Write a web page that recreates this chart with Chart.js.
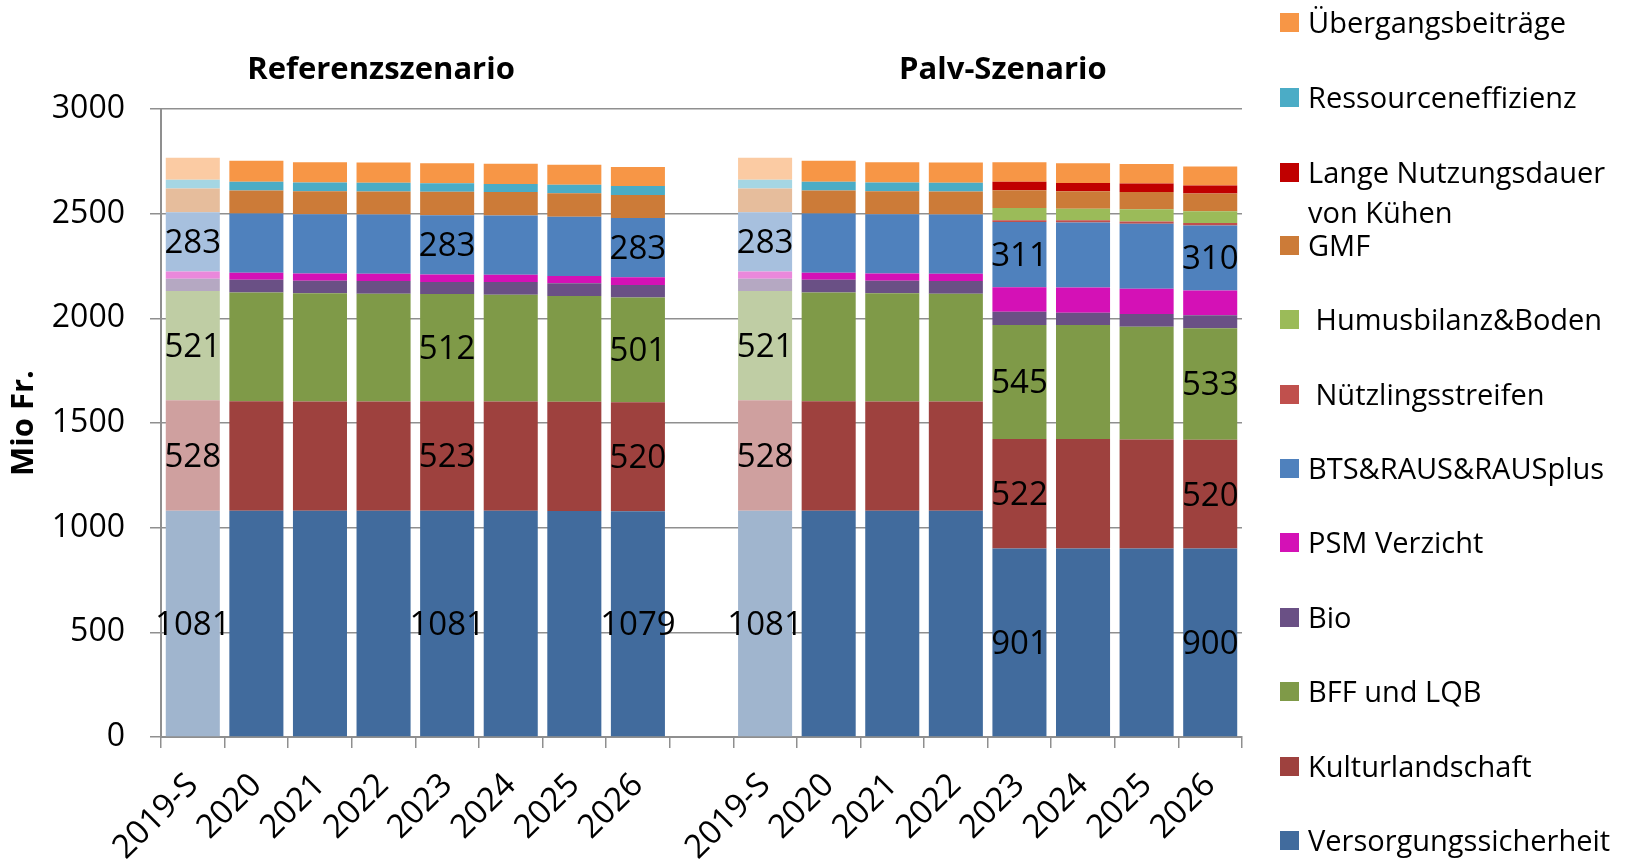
<!DOCTYPE html>
<html>
<head>
<meta charset="utf-8">
<script src="https://cdn.jsdelivr.net/npm/chart.js@4/dist/chart.umd.min.js"></script>
<style>
  body { margin: 0; background: #fff; }
  #wrap { position: relative; width: 1627px; height: 859px; }
  #legend { position: absolute; left: 0; top: 0; font-family: "Open Sans", sans-serif; font-size: 29px; color: #000; }
  .item { position: absolute; left: 1280px; white-space: nowrap; line-height: 40px; }
  .item span.sw { position: absolute; left: 0; top: 11px; width: 19px; height: 19px; }
  .item span.tx { position: absolute; left: 28px; top: 0; }
</style>
</head>
<body>
<div id="wrap">
  <canvas id="chart" width="1627" height="859"></canvas>
  <div id="legend"></div>
</div>
<script>
const categories = ["2019-S", "2020", "2021", "2022", "2023", "2024", "2025", "2026", "",
                    "2019-S", "2020", "2021", "2022", "2023", "2024", "2025", "2026"];

// stack order from bottom to top
const versorgung   = [1081, 1081, 1081, 1081, 1081, 1081, 1080, 1079, null, 1081, 1081, 1081, 1081, 901, 901, 900, 900];
const kultur       = [528, 523, 522, 522, 523, 522, 521, 520, null, 528, 523, 522, 522, 522, 522, 521, 520];
const bff          = [521, 519, 517, 514, 512, 510, 506, 501, null, 521, 519, 517, 514, 545, 545, 539, 533];
const bio          = [59, 61, 59, 61, 58, 61, 61, 59, null, 59, 61, 59, 61, 64, 59, 61, 62];
const psm          = [35, 34, 35, 35, 35, 34, 34, 37, null, 35, 34, 35, 35, 117, 120, 120, 118];
const bts          = [283, 283, 283, 283, 283, 283, 283, 283, null, 283, 283, 283, 283, 311, 311, 311, 310];
const nuetzlinge   = [0, 0, 0, 0, 0, 0, 0, 0, null, 0, 0, 0, 0, 8, 10, 10, 12];
const humus        = [0, 0, 0, 0, 0, 0, 0, 0, null, 0, 0, 0, 0, 59, 56, 59, 56];
const gmf          = [113, 110, 110, 110, 113, 113, 113, 110, null, 113, 110, 110, 110, 85, 83, 83, 85];
const langeND      = [0, 0, 0, 0, 0, 0, 0, 0, null, 0, 0, 0, 0, 40, 40, 40, 38];
const ressourcen   = [42, 42, 42, 42, 40, 38, 40, 43, null, 42, 42, 42, 42, 0, 0, 0, 0];
const uebergang    = [105, 100, 97, 96, 96, 97, 96, 91, null, 105, 100, 97, 96, 94, 94, 93, 91];

const yTicks = [0, 500, 1000, 1500, 2000, 2500, 3000];
const scenarios = ["Referenzszenario", "Palv-Szenario"];
const labelCols = [0, 4, 7, 9, 13, 16];       // columns carrying value labels
const paleCols = [0, 9];                        // 2019-S status quo shown faded

const series = [
  { name: "Versorgungssicherheit", data: versorgung, color: "#416B9D", label: true },
  { name: "Kulturlandschaft", data: kultur, color: "#9E413E", label: true },
  { name: "BFF und LQB", data: bff, color: "#7F9A48", label: true },
  { name: "Bio", data: bio, color: "#6A5085" },
  { name: "PSM Verzicht", data: psm, color: "#D411B6" },
  { name: "BTS&RAUS&RAUSplus", data: bts, color: "#4F81BD", label: true },
  { name: " Nützlingsstreifen", data: nuetzlinge, color: "#C0504D" },
  { name: " Humusbilanz&Boden", data: humus, color: "#9BBB59" },
  { name: "GMF", data: gmf, color: "#CC7B38" },
  { name: "Lange Nutzungsdauer\nvon Kühen", data: langeND, color: "#C00000" },
  { name: "Ressourceneffizienz", data: ressourcen, color: "#4BACC6" },
  { name: "Übergangsbeiträge", data: uebergang, color: "#F79646" }
];

function pale(hex) {
  const r = parseInt(hex.slice(1, 3), 16), g = parseInt(hex.slice(3, 5), 16), b = parseInt(hex.slice(5, 7), 16);
  const m = c => Math.round(255 - 0.5 * (255 - c));
  return `rgb(${m(r)},${m(g)},${m(b)})`;
}

const FONT = "'Open Sans', sans-serif";

const valueLabels = {
  id: "valueLabels",
  afterDatasetsDraw(chart) {
    const ctx = chart.ctx;
    ctx.save();
    ctx.font = "33px " + FONT;
    ctx.fillStyle = "#000";
    ctx.textAlign = "center";
    ctx.textBaseline = "middle";
    series.forEach((s, i) => {
      if (!s.label) return;
      const meta = chart.getDatasetMeta(i);
      labelCols.forEach(c => {
        const el = meta.data[c];
        ctx.fillText(String(s.data[c]), el.x, (el.y + el.base) / 2 + 2);
      });
    });
    ctx.restore();
  }
};

const groupTitles = {
  id: "groupTitles",
  afterDraw(chart) {
    const ctx = chart.ctx;
    const x = chart.scales.x;
    ctx.save();
    ctx.font = "bold 31px " + FONT;
    ctx.fillStyle = "#000";
    ctx.textAlign = "center";
    ctx.textBaseline = "middle";
    ctx.fillText(scenarios[0], x.getPixelForValue(2.96), 70);
    ctx.fillText(scenarios[1], x.getPixelForValue(12.74), 70);
    ctx.restore();
  }
};

const datasets = series.map(s => ({
  label: s.name,
  data: s.data,
  backgroundColor: s.data.map((v, i) => paleCols.includes(i) ? pale(s.color) : s.color),
  borderWidth: 0,
  barPercentage: 0.85,
  categoryPercentage: 1
}));

new Chart(document.getElementById("chart"), {
  type: "bar",
  data: { labels: categories, datasets: datasets },
  plugins: [valueLabels, groupTitles],
  options: {
    responsive: false,
    animation: false,
    layout: { padding: { left: 6, right: 385, top: 109, bottom: 0 } },
    plugins: { legend: { display: false }, tooltip: { enabled: false } },
    scales: {
      x: {
        stacked: true,
        afterFit: scale => { scale.height = 122; },
        grid: { display: true, drawOnChartArea: false, offset: true, color: "#8f8f8f", lineWidth: 1.5, tickLength: 11 },
        border: { color: "#8f8f8f", width: 2 },
        ticks: { autoSkip: false, maxRotation: 45, minRotation: 45, color: "#000", font: { family: FONT, size: 33 }, padding: 18 }
      },
      y: {
        stacked: true,
        min: 0,
        max: 3000,
        afterFit: scale => { scale.width = 155; },
        afterBuildTicks: axis => { axis.ticks = yTicks.map(v => ({ value: v })); },
        grid: { color: "#8f8f8f", lineWidth: 1.5, tickLength: 11 },
        border: { color: "#8f8f8f", width: 2 },
        ticks: { color: "#000", font: { family: FONT, size: 32 }, padding: 25, callback: v => String(v) },
        title: { display: true, text: "Mio Fr.", color: "#000", font: { family: FONT, size: 31, weight: "bold" }, padding: { top: 0, bottom: 6 } }
      }
    }
  }
});

// legend, top item = last stacked series
const legendTops = [2, 77, 152, 225, 299, 374, 448, 522, 597, 671, 746, 820];
const legend = document.getElementById("legend");
series.slice().reverse().forEach((s, i) => {
  const item = document.createElement("div");
  item.className = "item";
  item.style.top = legendTops[i] + "px";
  const sw = document.createElement("span");
  sw.className = "sw";
  sw.style.background = s.color;
  const tx = document.createElement("span");
  tx.className = "tx";
  tx.style.whiteSpace = "pre";
  tx.textContent = s.name;
  item.appendChild(sw);
  item.appendChild(tx);
  legend.appendChild(item);
});
</script>
</body>
</html>
